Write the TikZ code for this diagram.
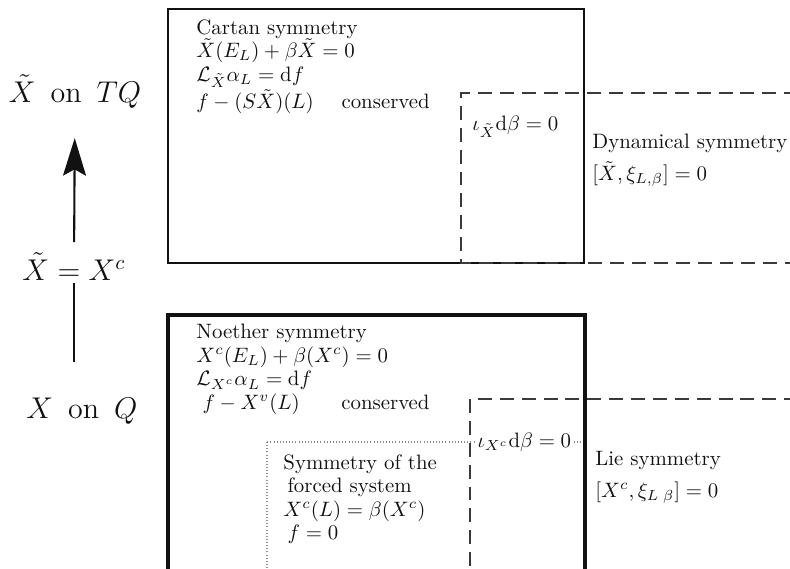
\documentclass[tikz,border=0pt]{standalone}
\usepackage{amsmath,amssymb}
\usetikzlibrary{arrows.meta,positioning}
\definecolor{ink}{HTML}{111111}
\definecolor{dashink}{HTML}{3A3A3A}
\definecolor{muted}{HTML}{8A8A8A}
\tikzset{
  box/.style={draw=ink,line width=1pt},
  boxb/.style={box,line width=1.5pt},
  dbox/.style={draw=dashink,line width=.8pt,dash pattern=on 6.7pt off 3.8pt},
  fbox/.style={draw=muted,line width=.5pt,densely dotted},
  txt/.style={anchor=north west,align=left,inner sep=0pt,text=ink,font=\fontsize{10pt}{11.3pt}\selectfont},
  big/.style={font=\Large,text=ink},
  ar/.style={-{Stealth[length=18pt,width=11pt,inset=3pt]},draw=ink,line width=1pt},
  ln/.style={draw=ink,line width=1pt},
}
\begin{document}
\begin{tikzpicture}[x=.48pt,y=-.48pt]
  \clip (0,0) rectangle (790,568);
  % upper level: vector fields on TQ
  \draw[box] (168,9) rectangle (584,263);
  \draw[dbox] (820,93) -- (461,93) -- (461,263) -- (820,263);
  \node[txt] (cartan) at (196,19) {Cartan symmetry\\ $\tilde X(E_L)+\beta\tilde X=0$\\ $\mathcal{L}_{\tilde X}\alpha_L=\mathrm{d}f$\\ $f-(S\tilde X)(L)$\quad\ conserved};
  \node[txt] (iotat) at (472,116) {$\iota_{\tilde X}\mathrm{d}\beta=0$};
  \node[txt] (dyn) at (592,134) {Dynamical symmetry\\[4pt] $[\tilde X,\xi_{L,\beta}]=0$};
  % lower level: lifts of X on Q
  \draw[fbox] (267,442) rectangle (585,620);
  \draw[dbox] (820,399) -- (470,399) -- (470,620);
  \draw[boxb] (168,315) rectangle (585,620);
  \node[txt] (noether) at (196,324) {Noether symmetry\\ $X^c(E_L)+\beta(X^c)=0$\\ $\mathcal{L}_{X^c}\alpha_L=\mathrm{d}f$\\ \kern3pt$f-X^v(L)$\qquad conserved};
  \node[txt,fill=white,inner sep=1pt,anchor=west] (iotac) at (475,442) {$\iota_{X^c}\mathrm{d}\beta=0$};
  \node[txt] (forced) at (283,454) {Symmetry of the\\ \kern2pt forced system\\ $X^c(L)=\beta(X^c)$\\ \kern2pt$f=0$};
  \node[txt] (lie) at (595,451) {Lie symmetry\\[4pt] $[X^c,\xi_{L\;\beta}]=0$};
  % complete lift
  \node[big,anchor=base] (xtq) at (75,102) {$\tilde X$\enspace on\enspace $TQ$};
  \node[big,anchor=base] (xeq) at (74,280) {$\tilde X=X^c$};
  \node[big,anchor=base] (xq) at (82,418) {$X$\enspace on\enspace $Q$};
  \draw[ln,shorten <=13.5pt,shorten >=-2pt] (xq.north -| xeq) -- (xeq);
  \draw[ar,shorten <=1.5pt,shorten >=11pt] (xeq) -- (xtq);
\end{tikzpicture}
\end{document}
